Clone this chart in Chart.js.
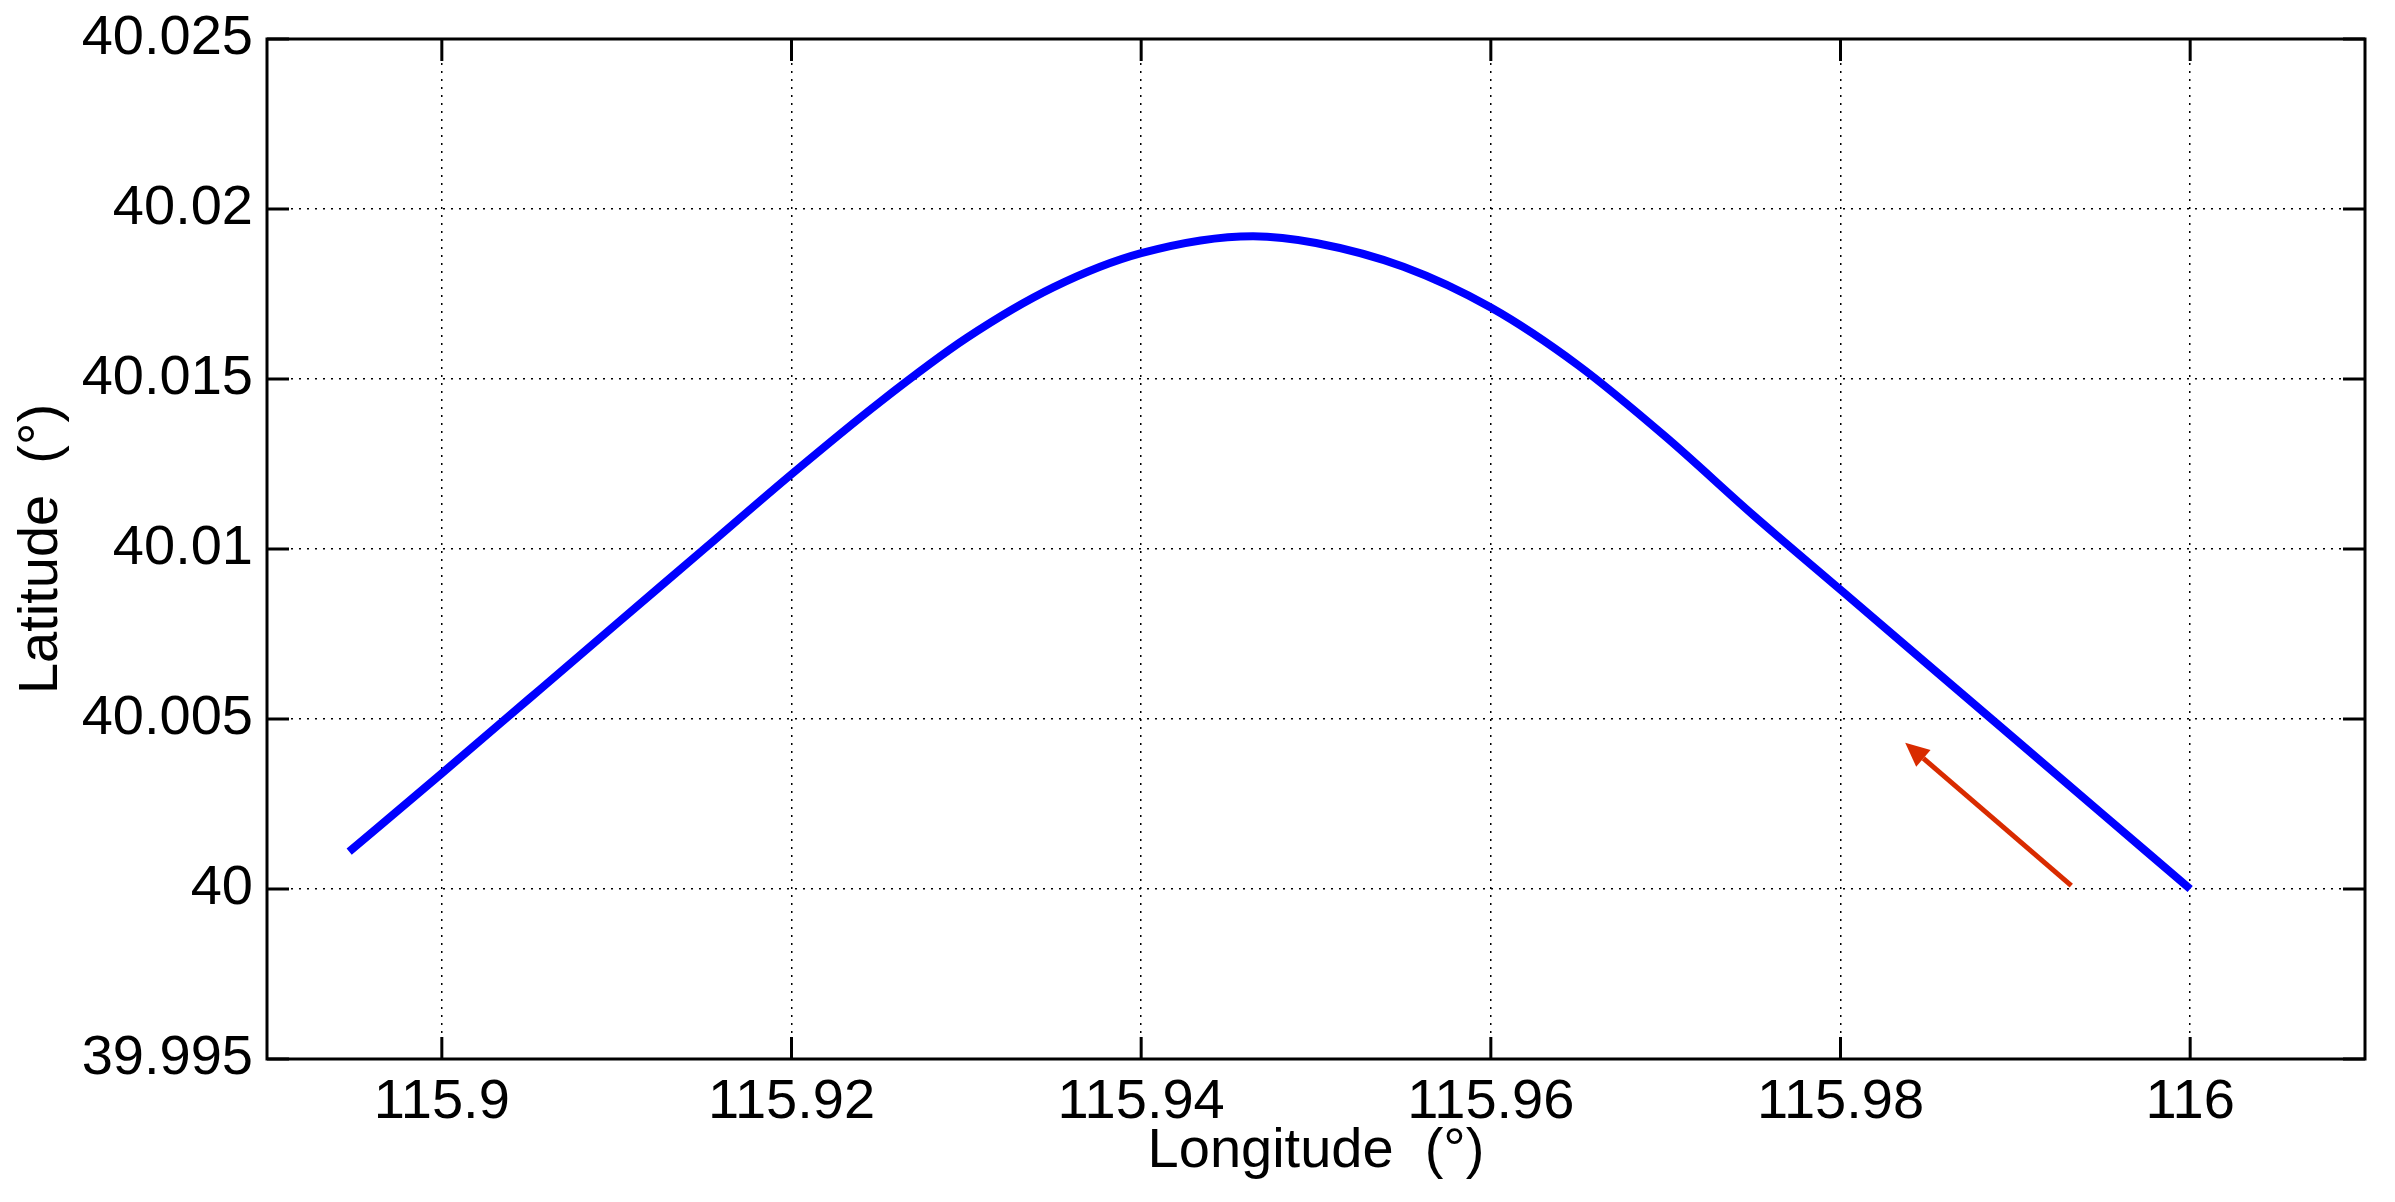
<!DOCTYPE html>
<html>
<head>
<meta charset="utf-8">
<script src="https://cdn.jsdelivr.net/npm/chart.js@4/dist/chart.umd.min.js"></script>
<style>
  body { margin: 0; background: #fff; }
  #wrap { width: 2395px; height: 1202px; }
</style>
</head>
<body>
<div id="wrap"><canvas id="trackChart" width="2395" height="1202"></canvas></div>
<script>
// track
let lonValues = [115.8947, 115.9, 115.905, 115.91, 115.915, 115.92, 115.925, 115.93, 115.935, 115.94, 115.9464, 115.95, 115.955, 115.96, 115.965, 115.97, 115.975, 115.98, 115.985, 115.99, 115.995, 116.0];
let latValues = [40.0011, 40.0034, 40.0056, 40.0078, 40.0100, 40.0122, 40.0143, 40.0162, 40.0177, 40.0187, 40.0192, 40.0190, 40.0183, 40.0171, 40.0154, 40.0133, 40.0110, 40.0088, 40.0066, 40.0044, 40.0022, 40.0];

let xTickValues = [115.9, 115.92, 115.94, 115.96, 115.98, 116];
let yTickValues = [39.995, 40, 40.005, 40.01, 40.015, 40.02, 40.025];

// red direction arrow: tail -> head
let arrowLon = [115.9932, 115.9837];
let arrowLat = [40.0001, 40.0043];

const fontFamily = '"Liberation Sans", Arial, Helvetica, sans-serif';

let points = lonValues.map((x, i) => ({ x: x, y: latValues[i] }));

const frame = {
  id: 'frame',
  afterDatasetsDraw(chart) {
    const ctx = chart.ctx;
    const a = chart.chartArea;
    const xs = chart.scales.x, ys = chart.scales.y;

    // arrow
    const tx = xs.getPixelForValue(arrowLon[0]), ty = ys.getPixelForValue(arrowLat[0]);
    const hx = xs.getPixelForValue(arrowLon[1]), hy = ys.getPixelForValue(arrowLat[1]);
    const ang = Math.atan2(hy - ty, hx - tx);
    const headLen = 24, headW = 11;
    const bx = hx - headLen * Math.cos(ang), by = hy - headLen * Math.sin(ang);
    ctx.save();
    ctx.strokeStyle = '#d92b00';
    ctx.fillStyle = '#d92b00';
    ctx.lineWidth = 5;
    ctx.beginPath();
    ctx.moveTo(tx, ty);
    ctx.lineTo(bx, by);
    ctx.stroke();
    ctx.beginPath();
    ctx.moveTo(hx, hy);
    ctx.lineTo(bx + headW * Math.sin(ang), by - headW * Math.cos(ang));
    ctx.lineTo(bx - headW * Math.sin(ang), by + headW * Math.cos(ang));
    ctx.closePath();
    ctx.fill();
    ctx.restore();

    // box and inward ticks
    ctx.save();
    ctx.strokeStyle = '#000';
    ctx.lineWidth = 3;
    ctx.strokeRect(a.left, a.top, a.right - a.left, a.bottom - a.top);
    ctx.beginPath();
    xTickValues.forEach(v => {
      const px = xs.getPixelForValue(v);
      ctx.moveTo(px, a.bottom); ctx.lineTo(px, a.bottom - 22);
      ctx.moveTo(px, a.top); ctx.lineTo(px, a.top + 22);
    });
    yTickValues.forEach(v => {
      const py = ys.getPixelForValue(v);
      ctx.moveTo(a.left, py); ctx.lineTo(a.left + 22, py);
      ctx.moveTo(a.right, py); ctx.lineTo(a.right - 22, py);
    });
    ctx.stroke();
    ctx.restore();
  }
};

new Chart(document.getElementById('trackChart'), {
  type: 'scatter',
  data: {
    datasets: [{
      data: points,
      showLine: true,
      borderColor: '#0000ff',
      borderWidth: 8,
      pointRadius: 0,
      cubicInterpolationMode: 'monotone',
      borderCapStyle: 'butt'
    }]
  },
  options: {
    responsive: false,
    animation: false,
    devicePixelRatio: 1,
    layout: { padding: { top: 39, right: 30, left: 0, bottom: 0 } },
    plugins: { legend: { display: false }, tooltip: { enabled: false } },
    scales: {
      x: {
        type: 'linear',
        min: 115.89,
        max: 116.01,
        afterBuildTicks: s => { s.ticks = xTickValues.map(v => ({ value: v })); },
        afterFit: s => { s.height = 143; s.paddingLeft = 0; s.paddingRight = 0; },
        ticks: {
          color: '#000',
          padding: 10,
          font: { family: fontFamily, size: 56 },
          callback: v => String(Number(v.toFixed(2)))
        },
        grid: { color: '#000', lineWidth: 1.5, drawTicks: false },
        border: { display: false, dash: [2, 6] },
        title: {
          display: true,
          text: 'Longitude  (°)',
          color: '#000',
          font: { family: fontFamily, size: 56 },
          padding: { top: 0, bottom: 17 }
        }
      },
      y: {
        type: 'linear',
        min: 39.995,
        max: 40.025,
        afterBuildTicks: s => { s.ticks = yTickValues.map(v => ({ value: v })); },
        afterFit: s => { s.width = 267; s.paddingTop = 0; s.paddingBottom = 0; },
        ticks: {
          color: '#000',
          padding: 14,
          font: { family: fontFamily, size: 56 },
          callback: v => String(Number(v.toFixed(3)))
        },
        grid: { color: '#000', lineWidth: 1.5, drawTicks: false },
        border: { display: false, dash: [2, 6] },
        title: {
          display: true,
          text: 'Latitude  (°)',
          color: '#000',
          font: { family: fontFamily, size: 56 },
          padding: { top: 8, bottom: 0 }
        }
      }
    }
  },
  plugins: [frame]
});
</script>
</body>
</html>
